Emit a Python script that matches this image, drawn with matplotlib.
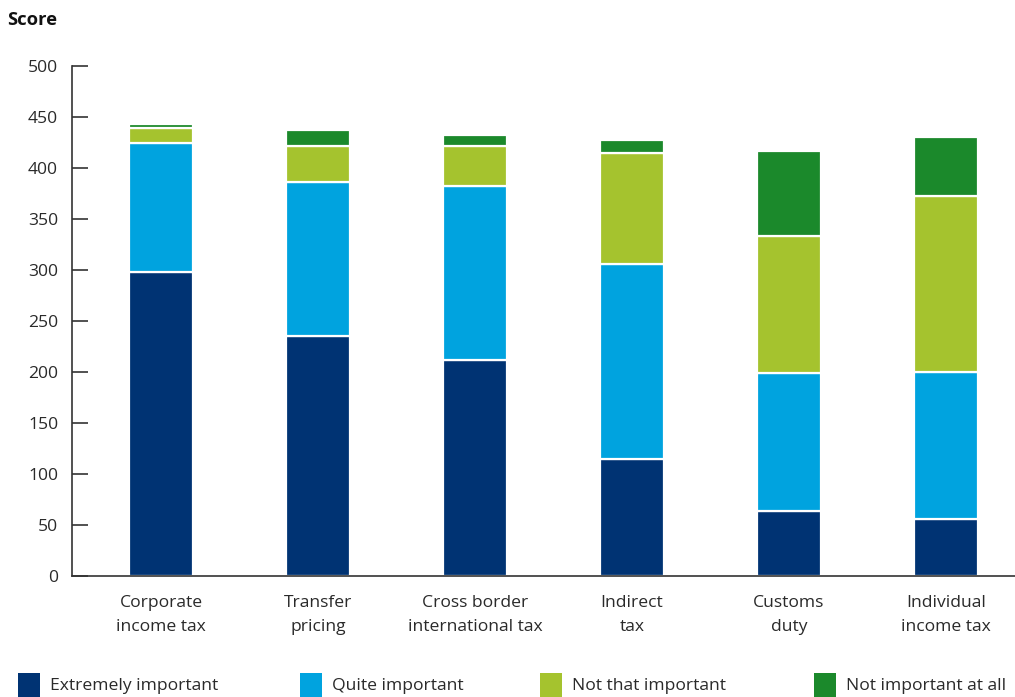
import matplotlib
matplotlib.use("Agg")
import matplotlib.pyplot as plt
from matplotlib.patches import Rectangle
import numpy as np

plt.rcParams['font.family'] = ['Open Sans', 'DejaVu Sans']

categories = ["Corporate\nincome tax", "Transfer\npricing", "Cross border\ninternational tax",
              "Indirect\ntax", "Customs\nduty", "Individual\nincome tax"]
series_names = ["Extremely important", "Quite important", "Not that important", "Not important at all"]
extremely = [298, 235, 212, 115, 64, 56]
quite = [127, 151, 170, 191, 135, 144]
not_that = [14, 36, 40, 109, 134, 173]
not_at_all = [4, 15, 10, 12, 84, 57]
yticks = [0, 50, 100, 150, 200, 250, 300, 350, 400, 450, 500]

colors = ["#003373", "#00A3DF", "#A5C32E", "#1B892B"]

W, H = 1015, 697
fig = plt.figure(figsize=(W / 100, H / 100), dpi=100)
ax = fig.add_axes([72 / W, 121 / H, (W - 72) / W, 510 / H])

x = np.arange(len(categories))
bottom = np.zeros(len(categories))
for vals, col in zip([extremely, quite, not_that, not_at_all], colors):
    ax.bar(x, vals, width=0.41, bottom=bottom, color=col, edgecolor="white", linewidth=1.6)
    bottom += np.array(vals)

ax.set_ylim(0, 500)
ax.set_xlim(-0.567, 5.44)
ax.set_yticks(yticks)
ax.set_xticks(x)
ax.set_xticklabels(categories, fontsize=12.6, color="#2a2a2a", linespacing=1.62)
ax.tick_params(axis="x", length=0, pad=14)
ax.tick_params(axis="y", direction="in", length=11.5, width=1.2, color="#333333",
               labelsize=12.6, labelcolor="#2a2a2a", pad=10)
for lab in ax.get_yticklabels():
    lab.set_verticalalignment("center_baseline")

for s in ["top", "right"]:
    ax.spines[s].set_visible(False)
for s in ["left", "bottom"]:
    ax.spines[s].set_color("#333333")
    ax.spines[s].set_linewidth(1.2)

fig.text(7 / W, 1 - 20 / H, "Score", fontsize=13.2, fontweight="bold", va="center", ha="left",
         color="#111111")

# Legend row along the bottom edge
leg_x = [18, 300, 540, 814]
for name, col, lx in zip(series_names, colors, leg_x):
    fig.patches.append(Rectangle((lx / W, 0), 22 / W, 24 / H, transform=fig.transFigure,
                                 facecolor=col, edgecolor="none"))
    fig.text((lx + 32) / W, 1 - 686 / H, name, fontsize=12.6, va="center", ha="left",
             color="#2a2a2a")

fig.savefig("out.png", dpi=100)
